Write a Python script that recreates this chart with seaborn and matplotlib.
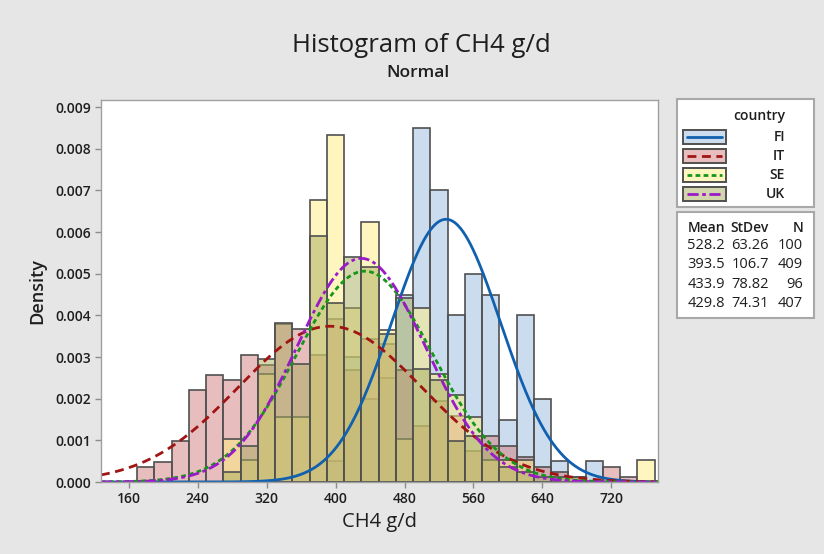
import numpy as np
import pandas as pd
import matplotlib
matplotlib.use("Agg")
import matplotlib.pyplot as plt
import seaborn as sns
from matplotlib.patches import Rectangle
from matplotlib.lines import Line2D

# ---------------- data ----------------
countries = ["FI", "IT", "SE", "UK"]
bin_centers = [180, 200, 220, 240, 260, 280, 300, 320, 340, 360,
               380, 400, 420, 440, 460, 480, 500, 520, 540, 560,
               580, 600, 620, 640, 660, 680, 700, 720, 740, 760]
bin_width = 20
fi_counts = [0, 0, 0, 0, 0, 0, 0, 0, 0, 0,
             0, 1, 6, 4, 5, 9, 17, 14, 8, 10,
             9, 3, 8, 4, 1, 0, 1, 0, 0, 0]
it_counts = [3, 4, 8, 18, 21, 20, 25, 23, 31, 30,
             25, 32, 22, 28, 27, 22, 11, 16, 13, 6,
             9, 7, 5, 3, 2, 1, 0, 3, 1, 0]
se_counts = [0, 0, 0, 0, 0, 2, 1, 5, 3, 3,
             13, 16, 8, 12, 7, 2, 8, 5, 4, 3,
             1, 1, 1, 0, 0, 0, 0, 0, 0, 1]
uk_counts = [0, 0, 0, 0, 0, 2, 7, 24, 31, 23,
             48, 35, 44, 42, 29, 36, 22, 20, 8, 9,
             7, 3, 2, 1, 1, 1, 0, 0, 0, 0]
means = [528.2, 393.5, 433.9, 429.8]
stdevs = [63.26, 106.7, 78.82, 74.31]
ns = [100, 409, 96, 407]
x_ticks = [160, 240, 320, 400, 480, 560, 640, 720]
y_ticks = [0.000, 0.001, 0.002, 0.003, 0.004, 0.005, 0.006, 0.007, 0.008, 0.009]

counts = {"FI": fi_counts, "IT": it_counts, "SE": se_counts, "UK": uk_counts}

rows = []
for c, n in zip(countries, ns):
    for x, k in zip(bin_centers, counts[c]):
        rows.append({"country": c, "CH4": x, "density": k / (n * bin_width)})
df = pd.DataFrame(rows)
edges = [b - bin_width / 2 for b in bin_centers] + [bin_centers[-1] + bin_width / 2]

# ---------------- style ----------------
sns.set_style("white")
plt.rcParams["font.family"] = ["Open Sans", "DejaVu Sans"]

W, H = 824, 554
fig = plt.figure(figsize=(W / 100, H / 100), dpi=100)
fig.patch.set_facecolor("#E6E6E6")

def fx(px):
    return px / W

def fy(py):
    return 1 - py / H

ax_l, ax_r, ax_t, ax_b = 101, 658, 100, 482
ax = fig.add_axes([fx(ax_l), fy(ax_b), (ax_r - ax_l) / W, (ax_b - ax_t) / H])
ax.set_facecolor("white")

fill_colors = {"FI": "#99BBE1", "IT": "#D37D7D", "SE": "#FFED80", "UK": "#A8AD5C"}
line_colors = {"FI": "#1060B0", "IT": "#A01414", "SE": "#16961A", "UK": "#9A1AC8"}
line_styles = {"FI": "-", "IT": (0, (3.2, 2.0)), "SE": (0, (1.7, 1.2)),
               "UK": (0, (4.0, 1.3, 1.3, 1.3))}
edge_color = "#505050"
alpha = 0.5

xlim = (128, 774)
ylim = (0, 0.00917)

for c in countries:
    n_before = len(ax.patches)
    sns.histplot(data=df[df["country"] == c], x="CH4", weights="density",
                 bins=edges, stat="count", element="bars", fill=True,
                 color=fill_colors[c], ax=ax, legend=False)
    for p in ax.patches[n_before:]:
        p.set_alpha(None)
        p.set_facecolor(matplotlib.colors.to_rgba(fill_colors[c], alpha))
        if p.get_height() > 0:
            p.set_edgecolor(edge_color)
            p.set_linewidth(1.2)
        else:
            p.set_edgecolor("none")
            p.set_linewidth(0)

xs = np.linspace(xlim[0], xlim[1], 700)
for c, m, s in zip(countries, means, stdevs):
    pdf = np.exp(-0.5 * ((xs - m) / s) ** 2) / (s * np.sqrt(2 * np.pi))
    sns.lineplot(x=xs, y=pdf, ax=ax, color=line_colors[c], linewidth=2.0,
                 linestyle=line_styles[c], estimator=None, legend=False)

ax.set_xlim(*xlim)
ax.set_ylim(*ylim)
ax.set_xticks(x_ticks)
ax.set_yticks(y_ticks)
ax.set_xticklabels([str(t) for t in x_ticks])
ax.set_yticklabels([f"{t:.3f}" for t in y_ticks])
ax.tick_params(axis="both", direction="out", length=4, width=1, color="#8C8C8C",
               labelsize=10, labelcolor="#1E1E1E", pad=3)
for lab in ax.get_xticklabels() + ax.get_yticklabels():
    lab.set_fontweight("semibold")
ax.tick_params(left=True, bottom=True)
for sp in ax.spines.values():
    sp.set_color("#A0A0A0")
    sp.set_linewidth(1.0)

ax.set_xlabel("CH4 g/d", fontsize=14.5, color="#1E1E1E")
ax.set_ylabel("Density", fontsize=13, color="#1E1E1E", fontweight="semibold")
ax.xaxis.set_label_coords(0.5, -(522 - ax_b) / (ax_b - ax_t))
ax.xaxis.label.set_va("center")
ax.yaxis.set_label_coords(-(ax_l - 37) / (ax_r - ax_l), 0.5)
ax.yaxis.label.set_va("center")

# titles
fig.text(fx(421), fy(45), "Histogram of CH4 g/d", ha="center", va="center",
         fontsize=18.5, color="#1E1E1E")
fig.text(fx(418), fy(73), "Normal", ha="center", va="center",
         fontsize=12.5, color="#1E1E1E", fontweight="semibold")

# legend box 1
fig.add_artist(Rectangle((fx(677), fy(207)), (814 - 677) / W, (207 - 99) / H,
                         transform=fig.transFigure, facecolor="white",
                         edgecolor="#A8A8A8", linewidth=1.5))
fig.text(fx(759), fy(116), "country", ha="center", va="center", fontsize=10,
         color="#1E1E1E", fontweight="semibold")
row_y = [137, 156, 175, 194]
for c, yy in zip(countries, row_y):
    fig.add_artist(Rectangle((fx(683), fy(yy + 7)), 43 / W, 14 / H,
                             transform=fig.transFigure,
                             facecolor=matplotlib.colors.to_rgba(fill_colors[c], alpha),
                             edgecolor=edge_color, linewidth=1.4))
    fig.add_artist(Line2D([fx(687), fx(722)], [fy(yy), fy(yy)],
                          transform=fig.transFigure, color=line_colors[c],
                          linewidth=2.0, linestyle=line_styles[c]))
    fig.text(fx(785), fy(yy), c, ha="right", va="center", fontsize=10,
             color="#1E1E1E", fontweight="semibold")

# legend box 2 (table)
fig.add_artist(Rectangle((fx(677), fy(318)), (814 - 677) / W, (318 - 212) / H,
                         transform=fig.transFigure, facecolor="white",
                         edgecolor="#A8A8A8", linewidth=1.5))
col_x = [725, 769, 803]
for hdr, cx in zip(["Mean", "StDev", "N"], col_x):
    fig.text(fx(cx), fy(228), hdr, ha="right", va="center", fontsize=10,
             color="#1E1E1E", fontweight="semibold")
tab_y = [245, 264.5, 284, 303.5]
for m, s, n, yy in zip(means, stdevs, ns, tab_y):
    for val, cx in zip([f"{m:.1f}", f"{s:.2f}" if s < 100 else f"{s:.1f}", f"{n}"], col_x):
        fig.text(fx(cx), fy(yy), val, ha="right", va="center", fontsize=10.5,
                 color="#1E1E1E")

fig.savefig("out.png", dpi=100, facecolor=fig.get_facecolor())
